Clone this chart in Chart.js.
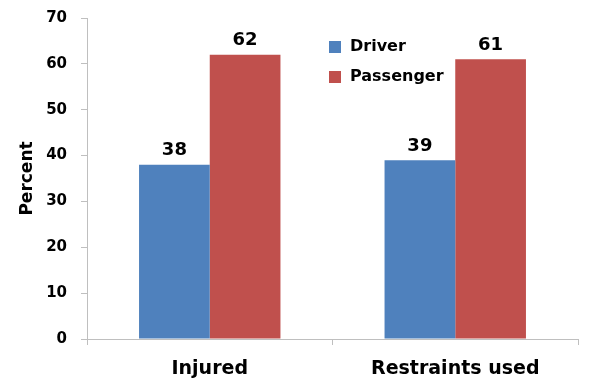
<!DOCTYPE html>
<html>
<head>
<meta charset="utf-8">
<script src="https://cdn.jsdelivr.net/npm/chart.js@4"></script>
<style>
  body { margin: 0; background: #fff; }
  #wrap { width: 605px; height: 383px; }
</style>
</head>
<body>
<div id="wrap"><canvas id="chart"></canvas></div>
<script>
const categories = ["Injured", "Restraints used"];
const driver = [38, 39];
const passenger = [62, 61];
const yTicks = [0, 10, 20, 30, 40, 50, 60, 70];

const FONT = "'DejaVu Sans', sans-serif";

// value labels over each bar
const barLabels = {
  id: "barLabels",
  afterDatasetsDraw(chart) {
    const ctx = chart.ctx;
    ctx.save();
    ctx.font = "bold 18px " + FONT;
    ctx.fillStyle = "#000";
    ctx.textAlign = "center";
    ctx.textBaseline = "bottom";
    chart.data.datasets.forEach((ds, i) => {
      chart.getDatasetMeta(i).data.forEach((bar, j) => {
        ctx.fillText(ds.data[j], bar.x, bar.y - 5);
      });
    });
    ctx.restore();
  }
};

// vertical legend inside the plot
const boxLegend = {
  id: "boxLegend",
  afterDraw(chart) {
    const ctx = chart.ctx;
    ctx.save();
    ctx.font = "bold 16px " + FONT;
    ctx.textBaseline = "middle";
    chart.data.datasets.forEach((ds, i) => {
      var y = 47 + i * 30;
      ctx.fillStyle = ds.backgroundColor;
      ctx.fillRect(329, y - 6, 12, 12);
      ctx.fillStyle = "#000";
      ctx.fillText(ds.label, 350, y);
    });
    ctx.restore();
  }
};

const config = {
  type: "bar",
  data: {
    labels: categories,
    datasets: [
      {
        label: "Driver",
        data: driver,
        backgroundColor: "#4F81BD",
        barPercentage: 1,
        categoryPercentage: 0.576
      },
      {
        label: "Passenger",
        data: passenger,
        backgroundColor: "#C0504D",
        barPercentage: 1,
        categoryPercentage: 0.576
      }
    ]
  },
  options: {
    responsive: true,
    maintainAspectRatio: false,
    animation: false,
    layout: { padding: { left: 0, right: 27, top: 18, bottom: 4 } },
    plugins: {
      legend: { display: false },
      tooltip: { enabled: false }
    },
    scales: {
      x: {
        afterFit: (axis) => { axis.height = 40; },
        grid: { drawOnChartArea: false, tickLength: 6, color: "#bfbfbf" },
        border: { color: "#bfbfbf" },
        ticks: { color: "#000", font: { family: FONT, size: 19, weight: "bold" }, padding: 13 }
      },
      y: {
        min: 0,
        max: 70,
        afterBuildTicks: (axis) => { axis.ticks = yTicks.map(v => ({ value: v })); },
        afterFit: (axis) => {
          axis.width = 87;
          axis.paddingTop = 0;
          axis.paddingBottom = 0;
        },
        grid: { drawOnChartArea: false, tickLength: 6, color: "#bfbfbf" },
        border: { color: "#bfbfbf" },
        ticks: { color: "#000", font: { family: FONT, size: 15, weight: "bold" }, padding: 14 },
        title: {
          display: true,
          text: "Percent",
          color: "#000",
          font: { family: FONT, size: 17, weight: "bold" },
          padding: { top: 17, bottom: 0 }
        }
      }
    }
  },
  plugins: [barLabels, boxLegend]
};

new Chart("chart", config);
</script>
</body>
</html>
